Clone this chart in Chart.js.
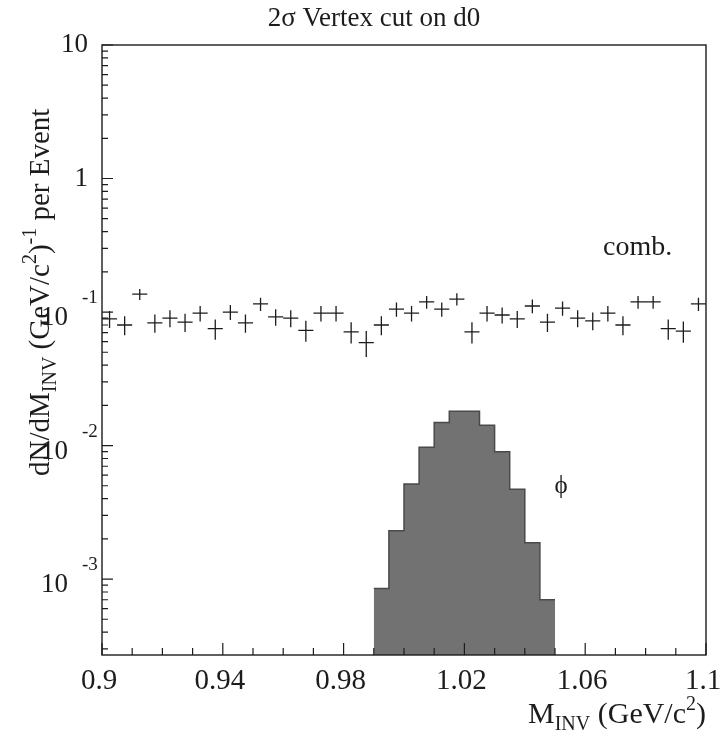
<!DOCTYPE html>
<html>
<head>
<meta charset="utf-8">
<script src="https://cdn.jsdelivr.net/npm/chart.js@4.4.0/dist/chart.umd.min.js"></script>
<style>
body { margin: 0; background: #fff; }
</style>
</head>
<body>
<canvas id="myCanvas" width="724" height="733"></canvas>
<script>
// combinatorial background, 5 MeV bins
let combMass = [0.9025, 0.9075, 0.9125, 0.9175, 0.9225, 0.9275, 0.9325, 0.9375, 0.9425, 0.9475,
    0.9525, 0.9575, 0.9625, 0.9675, 0.9725, 0.9775, 0.9825, 0.9875, 0.9925, 0.9975,
    1.0025, 1.0075, 1.0125, 1.0175, 1.0225, 1.0275, 1.0325, 1.0375, 1.0425, 1.0475,
    1.0525, 1.0575, 1.0625, 1.0675, 1.0725, 1.0775, 1.0825, 1.0875, 1.0925, 1.0975]
let combValues = [0.089, 0.080, 0.136, 0.083, 0.090, 0.084, 0.098, 0.075, 0.100, 0.083,
    0.115, 0.092, 0.090, 0.073, 0.098, 0.098, 0.071, 0.059, 0.080, 0.105,
    0.098, 0.119, 0.105, 0.125, 0.071, 0.098, 0.095, 0.089, 0.111, 0.084,
    0.107, 0.090, 0.086, 0.098, 0.080, 0.119, 0.119, 0.075, 0.072, 0.115]
let combErr = 0.013
let binHalf = 0.0025

// phi signal histogram
let phiEdges = [0.99, 0.995, 1.0, 1.005, 1.01, 1.015, 1.02, 1.025, 1.03, 1.035, 1.04, 1.045, 1.05]
let phiValues = [8.5e-4, 2.3e-3, 5.15e-3, 9.7e-3, 0.0149, 0.0181, 0.0181, 0.0142, 9.0e-3, 4.7e-3, 1.87e-3, 7.0e-4]

// axis ticks
let xTickVals = [0.9, 0.94, 0.98, 1.02, 1.06, 1.1]
let xTickLabels = ["0.9", "0.94", "0.98", "1.02", "1.06", "1.1"]
let yTickVals = [1e-3, 1e-2, 1e-1, 1, 10]
let yTickBase = ["10", "10", "10", "1", "10"]
let yTickExp = ["-3", "-2", "-1", "", ""]

let serif = "'Liberation Serif', 'DejaVu Serif', serif"
let ink = "#1c1c1c"

let hLines = []
let vLines = []
for (let i = 0; i < combMass.length; i++) {
    let m = combMass[i]
    let v = combValues[i]
    hLines.push({ x: m - binHalf, y: v }, { x: m + binHalf, y: v }, { x: m, y: null })
    vLines.push({ x: m, y: v - combErr }, { x: m, y: v + combErr }, { x: m, y: null })
}

let phiLine = phiValues.map(function (v, i) {
    return { x: phiEdges[i], y: v }
})
phiLine.push({ x: phiEdges[phiEdges.length - 1], y: phiValues[phiValues.length - 1] })

function richWidth(ctx, pieces) {
    let w = 0
    pieces.forEach(function (p) {
        ctx.font = p[1] + "px " + serif
        w += ctx.measureText(p[0]).width
    })
    return w
}

function drawRich(ctx, pieces, x, y) {
    pieces.forEach(function (p) {
        ctx.font = p[1] + "px " + serif
        ctx.fillText(p[0], x, y + p[2])
        x += ctx.measureText(p[0]).width
    })
}

let decorations = {
    id: "decorations",
    afterDatasetsDraw: function (chart) {
        let ctx = chart.ctx
        let area = chart.chartArea
        let xs = chart.scales.x
        let ys = chart.scales.y
        ctx.save()
        ctx.strokeStyle = ink
        ctx.fillStyle = ink

        // frame
        ctx.lineWidth = 1.4
        ctx.strokeRect(area.left, area.top, area.right - area.left, area.bottom - area.top)

        // x ticks, pointing inwards
        ctx.lineWidth = 1.2
        ctx.beginPath()
        for (let i = 0; i <= 20; i++) {
            let px = xs.getPixelForValue(0.9 + i * 0.01)
            let len = i % 4 == 0 ? 12 : 7
            ctx.moveTo(px, area.bottom)
            ctx.lineTo(px, area.bottom - len)
        }
        // y ticks
        for (let e = -4; e <= 1; e++) {
            for (let m = 1; m <= 9; m++) {
                let val = m * Math.pow(10, e)
                if (val < ys.min || val > ys.max * 1.0001) continue
                let py = ys.getPixelForValue(val)
                let len = m == 1 ? 11 : 6
                ctx.moveTo(area.left, py)
                ctx.lineTo(area.left + len, py)
            }
        }
        ctx.stroke()

        // x tick labels
        ctx.font = "29px " + serif
        ctx.textAlign = "center"
        ctx.textBaseline = "alphabetic"
        xTickVals.forEach(function (v, i) {
            ctx.fillText(xTickLabels[i], xs.getPixelForValue(v) - 3, 689)
        })

        // y tick labels
        ctx.textBaseline = "middle"
        yTickVals.forEach(function (v, i) {
            let py = ys.getPixelForValue(v)
            if (yTickExp[i] == "") {
                ctx.font = "27px " + serif
                ctx.textAlign = "right"
                ctx.fillText(yTickBase[i], 88, py)
            } else {
                ctx.font = "27px " + serif
                ctx.textAlign = "right"
                ctx.fillText(yTickBase[i], 68, py + 6)
                ctx.font = "19px " + serif
                ctx.textAlign = "left"
                ctx.fillText(yTickExp[i], 82, py - 14)
            }
        })

        ctx.textAlign = "left"
        ctx.textBaseline = "alphabetic"

        // title
        let title = [["2σ Vertex cut on d0", 27, 0]]
        drawRich(ctx, title, 374 - richWidth(ctx, title) / 2, 26)

        // x axis title
        let xTitle = [["M", 30, 0], ["INV", 20, 7], [" (GeV/c", 30, 0], ["2", 20, -13], [")", 30, 0]]
        drawRich(ctx, xTitle, 706 - richWidth(ctx, xTitle), 723)

        // y axis title
        let yTitle = [["dN/dM", 29, 0], ["INV", 20, 7], [" (GeV/c", 29, 0], ["2", 20, -13], [")", 29, 0],
            ["-1", 20, -13], [" per Event", 29, 0]]
        ctx.save()
        ctx.translate(49, 476)
        ctx.rotate(-Math.PI / 2)
        drawRich(ctx, yTitle, 0, 0)
        ctx.restore()

        // annotations
        ctx.font = "28px " + serif
        ctx.fillText("comb.", 603, 255)
        ctx.font = "25px " + serif
        ctx.textAlign = "center"
        ctx.fillText("ϕ", 561, 493)

        ctx.restore()
    }
}

let ctx = document.querySelector("#myCanvas").getContext("2d")
let chart = new Chart(ctx, {
    type: "line",
    data: {
        datasets: [{
            label: "phi",
            data: phiLine,
            stepped: "before",
            fill: "start",
            backgroundColor: "#727272",
            borderColor: "#4a4a4a",
            borderWidth: 1.5,
            pointRadius: 0
        }, {
            label: "comb x",
            data: hLines,
            spanGaps: false,
            borderColor: ink,
            borderWidth: 1.3,
            pointRadius: 0,
            fill: false
        }, {
            label: "comb y",
            data: vLines,
            spanGaps: false,
            borderColor: ink,
            borderWidth: 1.3,
            pointRadius: 0,
            fill: false
        }]
    },
    options: {
        responsive: false,
        animation: false,
        events: [],
        layout: { padding: { left: 102, right: 18, top: 45, bottom: 78 } },
        plugins: {
            legend: { display: false },
            tooltip: { enabled: false }
        },
        scales: {
            x: { type: "linear", min: 0.9, max: 1.1, display: false },
            y: { type: "logarithmic", min: 2.7e-4, max: 10, display: false }
        }
    },
    plugins: [decorations]
})
</script>
</body>
</html>
